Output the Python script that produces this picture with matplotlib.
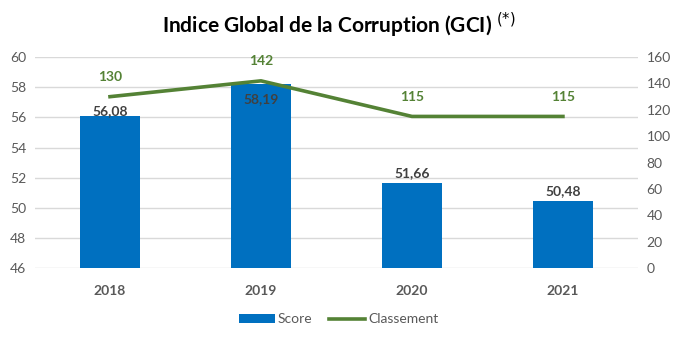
import matplotlib
matplotlib.use("Agg")
import matplotlib.pyplot as plt
import numpy as np

years = ["2018", "2019", "2020", "2021"]
score = [56.08, 58.19, 51.66, 50.48]
rank = [130, 142, 115, 115]
score_labels = ["56,08", "58,19", "51,66", "50,48"]

plt.rcParams['font.family'] = ['Lato', 'DejaVu Sans']

BLUE = "#0070C0"
GREEN = "#548235"
GREY = "#595959"

fig = plt.figure(figsize=(6.77, 3.38), dpi=100)
ax = fig.add_axes([0.051, 0.207, 0.892, 0.624])
ax2 = ax.twinx()

x = np.arange(len(years))
bars = ax.bar(x, score, width=0.4, color=BLUE, label="Score", zorder=2)
ax.set_ylim(46, 60)
ax.set_yticks(np.arange(46, 61, 2))
ax.set_xlim(-0.5, len(years) - 0.5)
ax.set_xticks(x)
ax.set_xticklabels(years, fontsize=10, fontweight='bold', color=GREY)
ax.tick_params(axis='x', length=0, pad=12)
ax.tick_params(axis='y', length=0, labelsize=10, labelcolor=GREY, pad=6)
ax.grid(axis='y', color="#D9D9D9", lw=1, zorder=0)
ax.set_axisbelow(True)
for s in ax.spines.values():
    s.set_visible(False)

line, = ax2.plot(x, rank, color=GREEN, lw=2.6, label="Classement", zorder=3)
ax2.set_ylim(0, 160)
ax2.set_yticks(np.arange(0, 161, 20))
ax2.tick_params(axis='y', length=0, labelsize=10, labelcolor=GREY, pad=6)
for s in ax2.spines.values():
    s.set_visible(False)

# score labels
offsets = [-0.05, -1.0, 0.25, 0.25]
for xi, v, lab, off in zip(x, score, score_labels, offsets):
    ax.text(xi, v + off, lab, ha='center', va='bottom' if off > 0 or xi == 0 else 'center',
            fontsize=10, fontweight='bold', color="#404040", zorder=5)

for xi, v in zip(x, rank):
    ax2.annotate(str(v), (xi, v), xytext=(0, 10), textcoords='offset points',
                 ha='center', va='bottom', fontsize=10, fontweight='bold', color=GREEN)

fig.text(0.5, 0.925, r"Indice Global de la Corruption (GCI) $^{(*)}$", ha='center', va='center',
         fontsize=15, fontweight='bold', color='black')

fig.legend(handles=[bars, line], labels=["Score", "Classement"], loc='center',
           bbox_to_anchor=(0.5, 0.055), ncol=2, frameon=False, fontsize=10,
           labelcolor=GREY, handlelength=2.6, handletextpad=0.2, columnspacing=1.2)

fig.savefig("out.png", dpi=100)
